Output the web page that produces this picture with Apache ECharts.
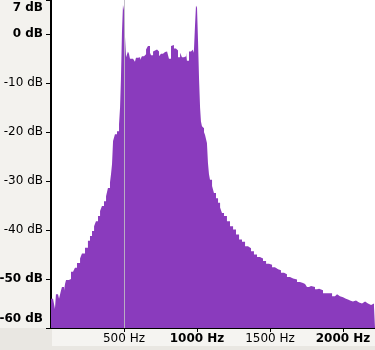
<!DOCTYPE html>
<html>
<head>
<meta charset="utf-8">
<script src="https://cdn.jsdelivr.net/npm/echarts@6/dist/echarts.min.js"></script>
<style>
html,body{margin:0;padding:0;background:#e9e7e2;}
#chart{width:375px;height:350px;}
</style>
</head>
<body>
<div id="chart"></div>
<script>
// Frequency (Hz) of each spectrum step
var freqHz = [0,14,27,34,48,55,68,75,89,96,103,123,137,151,164,178,199,212,233,253,267,281,295,308,322,336,349,363,377,390,404,411,418,425,438,452,466,473,479,486,493,500,507,514,527,534,541,562,575,582,596,610,623,637,651,664,678,685,699,712,726,740,753,767,781,795,808,822,829,842,856,870,884,897,911,925,931,945,959,973,979,986,993,1000,1007,1014,1021,1027,1034,1041,1048,1055,1068,1075,1082,1089,1103,1116,1130,1144,1158,1171,1185,1205,1226,1247,1267,1288,1308,1329,1349,1370,1390,1411,1431,1452,1473,1493,1514,1534,1555,1575,1596,1616,1637,1658,1671,1685,1705,1726,1740,1753,1767,1781,1794,1808,1822,1836,1849,1863,1884,1897,1911,1925,1945,1959,1979,2000,2020,2034,2048,2068,2089,2110,2130,2151,2171,2192,2212,2219];
// Level (dB) at each step
var levelDb = [-54.0,-54.0,-56.1,-53.1,-53.5,-54.0,-52.4,-51.6,-52.4,-51.0,-50.2,-50.0,-48.5,-48.4,-47.7,-46.7,-45.8,-44.8,-43.6,-42.2,-41.2,-40.2,-39.2,-38.2,-37.1,-36.1,-35.1,-34.1,-33.1,-31.4,-30.3,-28.6,-26.5,-21.8,-20.4,-19.8,-18.4,-14.9,-9.2,0.3,6.0,4.9,-0.6,-4.7,-3.5,-4.0,-5.0,-5.4,-5.6,-4.8,-4.7,-5.2,-4.5,-4.1,-3.1,-2.4,-3.8,-4.3,-3.5,-3.1,-3.5,-4.5,-4.0,-3.6,-3.5,-3.8,-5.0,-2.4,-2.2,-2.9,-3.3,-4.7,-3.8,-4.7,-4.5,-3.8,-5.4,-3.5,-3.1,-3.8,-3.3,1.6,5.9,5.4,-1.4,-9.2,-15.0,-17.8,-18.8,-19.2,-20.0,-20.6,-22.2,-26.3,-28.6,-29.7,-31.0,-32.4,-33.5,-34.4,-35.4,-36.5,-37.1,-38.2,-39.2,-39.9,-40.9,-41.9,-42.4,-43.3,-43.7,-44.3,-45.0,-45.5,-45.8,-46.3,-46.9,-47.1,-47.6,-48.0,-48.2,-48.7,-49.0,-49.6,-49.9,-50.3,-50.1,-50.6,-50.8,-51.0,-51.2,-51.6,-51.4,-51.8,-51.6,-52.1,-52.0,-52.4,-52.3,-52.9,-52.7,-52.9,-52.9,-53.5,-53.1,-53.5,-53.7,-54.0,-54.2,-54.4,-54.6,-54.4,-54.8,-55.0,-54.6,-55.0,-55.3,-55.0,-55.5,-55.5];
// Tick labels
var yBoldTicks = [7, 0, -50, -60];
var xBoldTicks = [1000, 2000];
var cursorHz = [500];

var FONT = 'DejaVu Sans';
var chart = echarts.init(document.getElementById('chart'), null, {renderer: 'canvas'});
var seriesData = freqHz.map(function (f, i) { return [f, levelDb[i]]; });

chart.setOption({
  backgroundColor: '#e9e7e2',
  animation: false,
  graphic: [
    {type: 'rect', shape: {x: 0, y: 0, width: 50, height: 328}, style: {fill: '#f3f2ee'}, z: 0, silent: true},
    {type: 'rect', shape: {x: 52, y: 329, width: 323, height: 17}, style: {fill: '#f5f4f1'}, z: 0, silent: true}
  ],
  grid: {left: 51, right: 0, top: 0, bottom: 22, show: true, backgroundColor: '#ffffff', borderWidth: 0, containLabel: false, outerBoundsMode: 'none'},
  xAxis: {
    type: 'value', min: 0, max: 2219, interval: 500,
    splitLine: {show: false},
    axisLine: {show: true, onZero: false, lineStyle: {color: '#000', width: 2}},
    axisTick: {show: true, length: 4, lineStyle: {color: '#000', width: 1}},
    axisLabel: {
      margin: 5, fontFamily: FONT, fontSize: 12, color: '#000',
      showMinLabel: false, showMaxLabel: false,
      formatter: function (v) {
        if (v === 0 || v % 500 !== 0) return '';
        var key = xBoldTicks.indexOf(v) >= 0 ? 'b' : 'n';
        return '{' + key + '|' + v + ' Hz}';
      },
      rich: {
        b: {fontFamily: FONT, fontSize: 12, fontWeight: 'bold', color: '#000'},
        n: {fontFamily: FONT, fontSize: 12, fontWeight: 'normal', color: '#000'}
      }
    }
  },
  yAxis: {
    type: 'value', min: -60, max: 7, interval: 10,
    splitLine: {show: false},
    axisLine: {show: true, onZero: false, lineStyle: {color: '#000', width: 2}},
    axisTick: {show: true, length: 5, lineStyle: {color: '#000', width: 1}},
    axisLabel: {
      margin: 8, fontFamily: FONT, fontSize: 12, color: '#000',
      showMinLabel: true, showMaxLabel: true,
      verticalAlignMaxLabel: 'top', verticalAlignMinLabel: 'bottom',
      formatter: function (v) {
        var key = yBoldTicks.indexOf(v) >= 0 ? 'b' : 'n';
        if (v === 7) key = 't';
        if (v === -60) key = 'm';
        return '{' + key + '|' + v + ' dB}';
      },
      rich: {
        b: {fontFamily: FONT, fontSize: 12, fontWeight: 'bold', color: '#000'},
        t: {fontFamily: FONT, fontSize: 12, fontWeight: 'bold', color: '#000', padding: [2, 0, 0, 0]},
        m: {fontFamily: FONT, fontSize: 12, fontWeight: 'bold', color: '#000', padding: [0, 0, 3, 0]},
        n: {fontFamily: FONT, fontSize: 12, fontWeight: 'normal', color: '#000'}
      }
    }
  },
  series: [{
    type: 'line',
    data: seriesData,
    step: 'end',
    showSymbol: false,
    symbol: 'none',
    silent: true,
    lineStyle: {width: 0, color: '#8a3bbd'},
    itemStyle: {color: '#8a3bbd'},
    areaStyle: {color: '#8a3bbd', opacity: 1, origin: 'start'},
    markLine: {
      silent: true,
      symbol: ['none', 'none'],
      label: {show: false},
      lineStyle: {type: 'solid', width: 1, color: 'rgba(190,185,195,0.9)'},
      data: cursorHz.map(function (h) { return {xAxis: h}; })
    }
  }]
});
</script>
</body>
</html>
